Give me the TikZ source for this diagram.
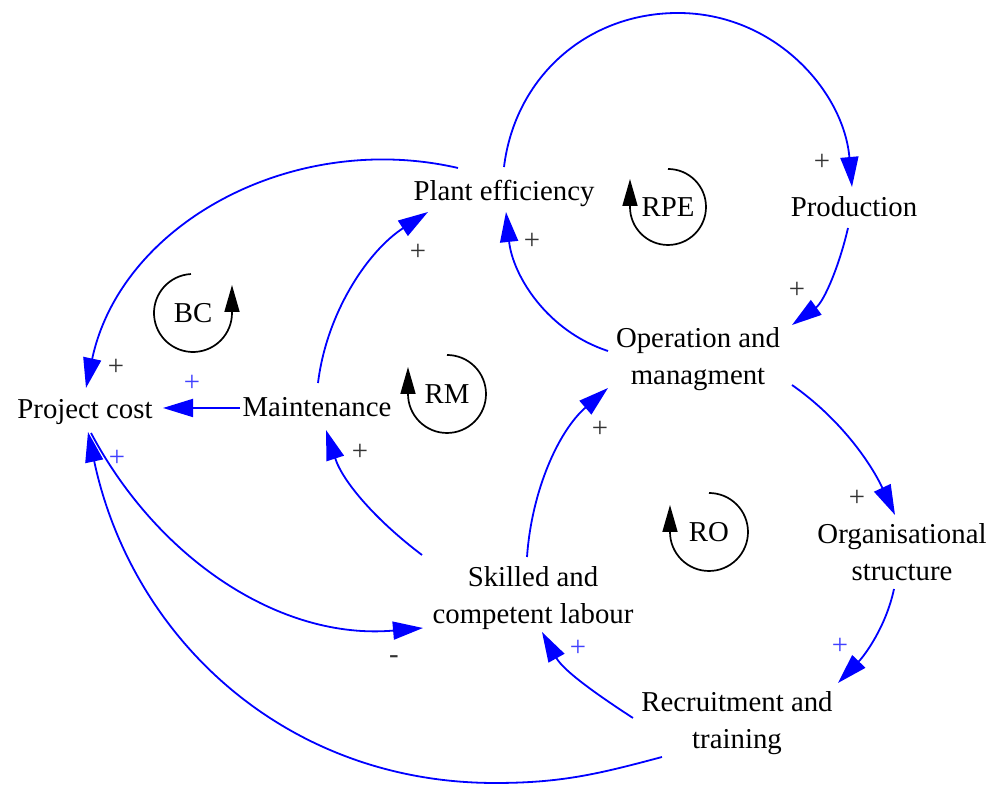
\documentclass[tikz,border=0pt]{standalone}
\usepackage{fontspec}
\setmainfont{Liberation Serif}
\usetikzlibrary{arrows.meta}
\begin{document}
\begin{tikzpicture}[x=0.5pt,y=0.5pt,
  var/.style={font=\fontsize{14.4pt}{18.5pt}\selectfont, align=center, inner sep=0pt},
  conn/.style={draw=blue, line width=0.9pt, -{Triangle[length=15pt,width=9pt]}},
  loopc/.style={draw=black, line width=0.85pt, -{Triangle[length=13.5pt,width=7.5pt]}},
  sgnk/.style={font=\fontsize{14.4pt}{16pt}\selectfont, text=black!80, inner sep=0pt},
  sgnb/.style={font=\fontsize{14.4pt}{16pt}\selectfont, text=blue!75!white, inner sep=0pt}]
\useasboundingbox (0,0) rectangle (992,785);

% variables
\node[var] (pc) at (85,373) {Project cost};
\node[var] (mt) at (317,378) {Maintenance};
\node[var] (pe) at (504,592) {Plant efficiency};
\node[var] (pr) at (854,578) {Production};
\node[var] (om) at (698,426) {Operation and\\managment};
\node[var] (os) at (902,233) {Organisational\\structure};
\node[var] (rt) at (737,62) {Recruitment and\\training};
\node[var] (sk) at (533,187) {Skilled and\\competent labour};

% loop labels
\node[var] (bc) at (193,472) {BC};
\node[var] (rpe) at (668,578) {RPE};
\node[var] (rm) at (447,391) {RM};
\node[var] (ro) at (709,253) {RO};

% connectors
\draw[conn] ([shift={(-46,25)}]pe.center) to[out=167,in=78] ([shift={(1,24)}]pc.center);
\draw[conn] ([shift={(-77,-1)}]mt.center) -- ([shift={(78,4)}]pc.center);
\draw[conn] ([shift={(1,24)}]mt.center) to[out=83,in=213,looseness=0.9] ([shift={(-76,-19)}]pe.center);
\draw[conn] ([shift={(0,26)}]pe.center) to[out=83,in=180] (678,772) to[out=0,in=95] ([shift={(-2,20)}]pr.center);
\draw[conn] ([shift={(-6,-21)}]pr.center) to[out=257,in=36,looseness=0.9] ([shift={(94,34)}]om.center);
\draw[conn] ([shift={(-90,8)}]om.center) to[out=162,in=276,looseness=0.95] ([shift={(2,-19)}]pe.center);
\draw[conn] ([shift={(94,-26)}]om.center) to[out=325,in=115,looseness=0.9] ([shift={(-7,37)}]os.center);
\draw[conn] ([shift={(-8,-37)}]os.center) to[out=258,in=46,looseness=0.9] ([shift={(101,40)}]rt.center);
\draw[conn] ([shift={(-104,5)}]rt.center) to[out=147,in=299,looseness=0.9] ([shift={(9,-34)}]sk.center);
\draw[conn] ([shift={(-6,41)}]sk.center) to[out=86,in=221,looseness=0.9] ([shift={(-90,-29)}]om.center);
\draw[conn] ([shift={(-111,43)}]sk.center) to[out=143,in=288,looseness=0.9] ([shift={(9,-23)}]mt.center);
\draw[conn] ([shift={(6,-21)}]pc.center) to[out=298,in=185,looseness=0.95] ([shift={(-110,-30)}]sk.center);
\draw[conn] ([shift={(-75,-34)}]rt.center) to[out=195,in=0] (495,2) to[out=180,in=282] ([shift={(3,-20)}]pc.center);

% polarity signs
\node[sgnk] (s1) at (116,418) {+};
\node[sgnb] (s2) at (192,402) {+};
\node[sgnk] (s3) at (418,533) {+};
\node[sgnk] (s4) at (822,623) {+};
\node[sgnk] (s5) at (797,495) {+};
\node[sgnk] (s6) at (532,544) {+};
\node[sgnk] (s7) at (857,287) {+};
\node[sgnb] (s8) at (840,139) {+};
\node[sgnb] (s9) at (578,137) {+};
\node[sgnk] (s10) at (600,356) {+};
\node[sgnk] (s11) at (360,333) {+};
\node[sgnk] (s12) at (394,125) {-};
\node[sgnb] (s13) at (117,327) {+};

% loop symbols
\draw[loopc] ([shift={(93:19.5pt)}]bc.center) arc[start angle=93,end angle=360,radius=19.5pt] -- ++(0,28);
\draw[loopc] ([shift={(90:19pt)}]rpe.center) arc[start angle=90,end angle=-180,radius=19pt] -- ++(0,28);
\draw[loopc] ([shift={(90:19.5pt)}]rm.center) arc[start angle=90,end angle=-180,radius=19.5pt] -- ++(0,27);
\draw[loopc] ([shift={(90:19.5pt)}]ro.center) arc[start angle=90,end angle=-180,radius=19.5pt] -- ++(0,27);
\end{tikzpicture}
\end{document}
